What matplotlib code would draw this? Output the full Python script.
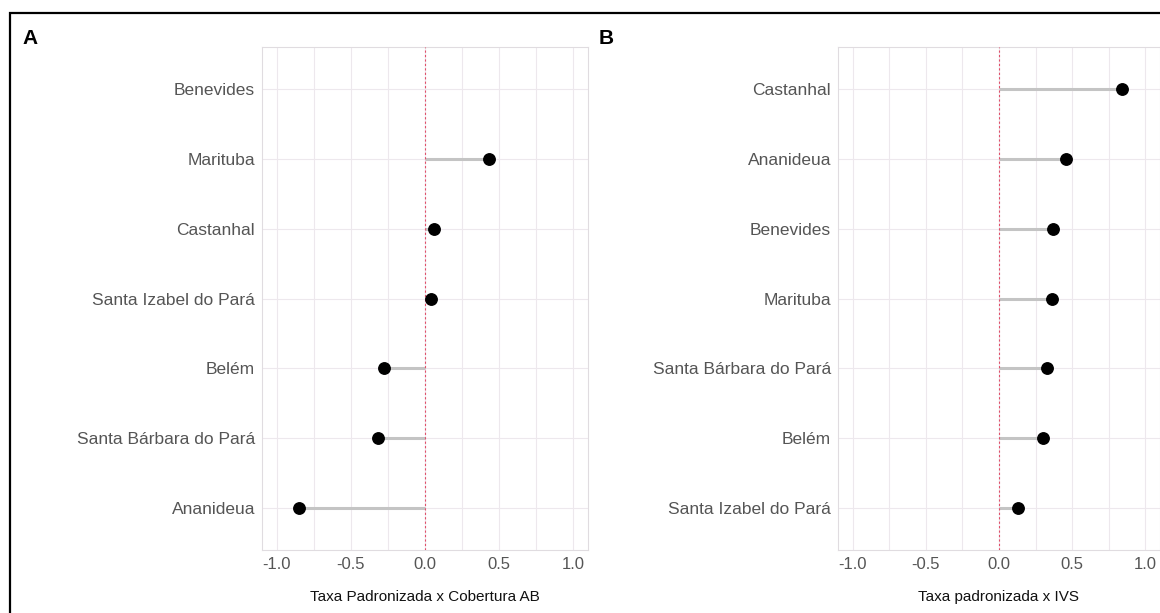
import numpy as np
import matplotlib.pyplot as plt
from matplotlib.patches import Rectangle

plt.rcParams['font.family'] = ['Liberation Sans', 'DejaVu Sans']

# panel A: taxa padronizada x cobertura AB (bottom to top)
cities_a = ['Ananideua', 'Santa Bárbara do Pará', 'Belém', 'Santa Izabel do Pará',
            'Castanhal', 'Marituba', 'Benevides']
vals_a = [-0.85, -0.32, -0.28, 0.04, 0.06, 0.43, np.nan]

# panel B: taxa padronizada x IVS (bottom to top)
cities_b = ['Santa Izabel do Pará', 'Belém', 'Santa Bárbara do Pará', 'Marituba',
            'Benevides', 'Ananideua', 'Castanhal']
vals_b = [0.13, 0.30, 0.33, 0.365, 0.37, 0.46, 0.84]

xticks = [-1.0, -0.5, 0.0, 0.5, 1.0]
xticklabels = ['-1.0', '-0.5', '0.0', '0.5', '1.0']


def lollipop(ax, cities, vals, xlabel):
  y = np.arange(len(cities))
  v = np.array(vals, dtype=float)
  ax.set_xlim(-1.1, 1.1)
  ax.set_ylim(-0.6, len(cities) - 0.4)

  # grid like ggplot minimal
  for xv in np.arange(-1.0, 1.01, 0.25):
    ax.axvline(xv, color='#EDE8ED', lw=0.8, zorder=0)
  for yv in y:
    ax.axhline(yv, color='#EDE8ED', lw=0.8, zorder=0)

  ax.hlines(y, 0, v, color='#C4C4C4', lw=2.2, zorder=2)
  ax.axvline(0, color='#E0506A', lw=0.8, ls=(0, (2, 2)), zorder=3)
  ax.scatter(v, y, s=68, color='black', zorder=4)

  ax.set_yticks(y)
  ax.set_yticklabels(cities, fontsize=12.5, color='#555555')
  ax.set_xticks(xticks)
  ax.set_xticklabels(xticklabels, fontsize=12, color='#555555')
  ax.tick_params(length=0, pad=5)
  ax.set_xlabel(xlabel, fontsize=11, color='#111111', labelpad=13)
  for s in ax.spines.values():
    s.set_color('#E0DCE0')
    s.set_linewidth(0.8)


fig = plt.figure(figsize=(11.6, 6.13), dpi=100)
ax_a = fig.add_axes([0.2259, 0.1028, 0.2810, 0.8205])
ax_b = fig.add_axes([0.7224, 0.1028, 0.2776, 0.8205])

lollipop(ax_a, cities_a, vals_a, 'Taxa Padronizada x Cobertura AB')
lollipop(ax_b, cities_b, vals_b, 'Taxa padronizada x IVS')

fig.text(30.5 / 1160, 1 - 38 / 613, 'A', fontsize=15, fontweight='bold', va='center', ha='center')
fig.text(606 / 1160, 1 - 38 / 613, 'B', fontsize=15, fontweight='bold', va='center', ha='center')

# outer frame (only left and top edges fall inside the picture)
fig.add_artist(Rectangle((10 / 1160, -0.2), 1.2, 1.2 - 13 / 613, transform=fig.transFigure,
                         fill=False, edgecolor='black', lw=1.6, clip_on=False))

fig.savefig('out.png', dpi=100)
